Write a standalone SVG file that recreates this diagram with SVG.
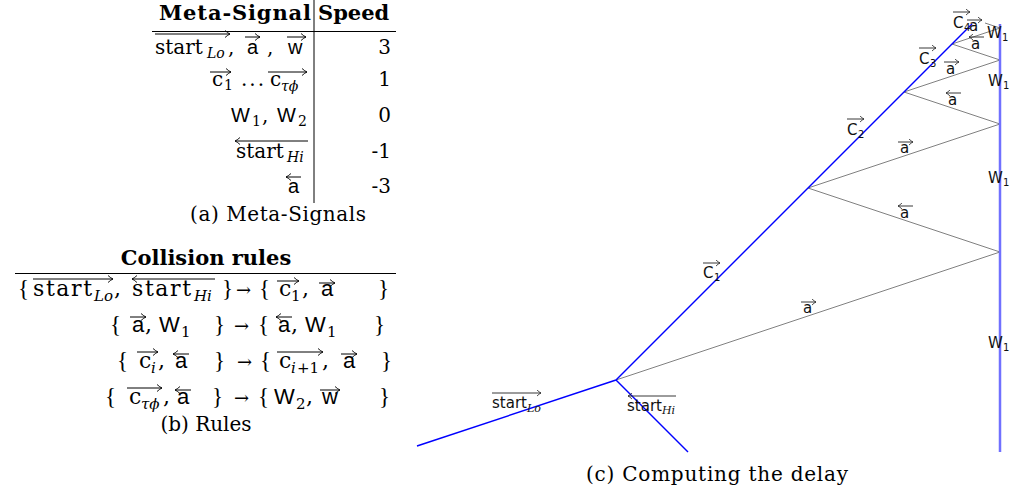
<svg xmlns="http://www.w3.org/2000/svg" width="1010" height="493" viewBox="0 0 1010 493">
<defs>
<marker id="h" viewBox="-6 -4 7 8" refX="0" refY="0" markerWidth="7" markerHeight="8" markerUnits="userSpaceOnUse" orient="auto">
<path d="M-5,-3.5 Q-2,-0.8 0,0 Q-2,0.8 -5,3.5" fill="none" stroke="#000" stroke-width="0.9"/>
</marker>
<marker id="hs" viewBox="-5 -3.5 6 7" refX="0" refY="0" markerWidth="6" markerHeight="7" markerUnits="userSpaceOnUse" orient="auto">
<path d="M-4,-3 Q-1.6,-0.7 0,0 Q-1.6,0.7 -4,3" fill="none" stroke="#222" stroke-width="0.8"/>
</marker>
</defs>
<style>
.sr{font-family:"DejaVu Serif","Liberation Serif",serif;font-size:20px;fill:#000}
.srb{font-family:"DejaVu Serif","Liberation Serif",serif;font-size:21px;font-weight:bold;fill:#000}
.sb{font-family:"DejaVu Serif","Liberation Serif",serif;font-size:22px;fill:#000}
.br{font-family:"Liberation Serif","DejaVu Serif",serif;font-size:23px;fill:#000}
.ar{font-family:"DejaVu Serif","Liberation Serif",serif;font-size:18px;fill:#000}
.it{font-family:"DejaVu Serif","Liberation Serif",serif;font-style:italic;font-size:14px;fill:#000}
.up{font-family:"DejaVu Serif","Liberation Serif",serif;font-size:14px;fill:#000}
.itb{font-family:"DejaVu Serif","Liberation Serif",serif;font-style:italic;font-size:15px;fill:#000}
.upb{font-family:"DejaVu Serif","Liberation Serif",serif;font-size:15px;fill:#000}
.ss{font-family:"Liberation Sans","DejaVu Sans",sans-serif;font-size:20px;fill:#000}
.ssb{font-family:"Liberation Sans","DejaVu Sans",sans-serif;font-size:22px;fill:#000}
.lb{font-family:"DejaVu Sans","Liberation Sans",sans-serif;font-size:15px;fill:#111}
.lbs{font-family:"DejaVu Sans","Liberation Sans",sans-serif;font-size:10px;fill:#111}
.lbi{font-family:"DejaVu Serif","Liberation Serif",serif;font-style:italic;font-size:11px;fill:#111}
.ov{stroke:#000;stroke-width:1;marker-end:url(#h);fill:none}
.ovs{stroke:#222;stroke-width:0.9;marker-end:url(#hs);fill:none}
.rule{stroke:#000;stroke-width:1}
.end{text-anchor:end}
.mid{text-anchor:middle}
</style>

<g id="table-a">
<line class="rule" x1="314" y1="0" x2="314" y2="203"/>
<line class="rule" x1="152" y1="31.5" x2="396" y2="31.5"/>
<text class="srb end" x="311" y="20" textLength="152">Meta-Signal</text>
<text class="srb" x="318" y="20">Speed</text>
<g id="row-a1">
<text class="sr" x="155" y="54">start</text><text class="it" x="207" y="58">Lo</text><text class="sr" x="228" y="54">,</text>
<text class="ss" x="247" y="54">a</text><text class="sr" x="267" y="54">,</text><text class="ss" x="288" y="54">w</text>
<line class="ov" x1="155" y1="34" x2="230" y2="34"/>
<line class="ov" x1="245" y1="37" x2="260" y2="37"/>
<line class="ov" x1="287" y1="37" x2="306" y2="37"/>
<text class="sr end" x="391" y="54">3</text>
</g>
<g id="row-a2">
<text class="sr" x="212" y="86">c</text><text class="up" x="224" y="90">1</text>
<text class="sr" x="241" y="86" letter-spacing="2">...</text>
<text class="sr" x="270" y="86">c</text><text class="it" x="281" y="91">τϕ</text>
<line class="ov" x1="210" y1="72" x2="231" y2="72"/>
<line class="ov" x1="268" y1="72" x2="307" y2="72"/>
<text class="sr end" x="391" y="86">1</text>
</g>
<g id="row-a3">
<text class="ss" x="231" y="122" font-size="21">W</text><text class="up" x="252" y="126">1</text><text class="sr" x="262" y="122">,</text>
<text class="ss" x="277" y="122" font-size="21">W</text><text class="up" x="298" y="126">2</text>
<text class="sr end" x="391" y="122">0</text>
</g>
<g id="row-a4">
<text class="sr" x="236" y="158">start</text><text class="it" x="287" y="162">Hi</text>
<line class="ov" x1="308" y1="141" x2="235" y2="141"/>
<text class="sr end" x="391" y="158">-1</text>
</g>
<g id="row-a5">
<text class="ss" x="288" y="193">a</text>
<line class="ov" x1="301" y1="177" x2="286" y2="177"/>
<text class="sr end" x="391" y="193">-3</text>
</g>
<text class="sr mid" x="278" y="221" font-size="21" textLength="176">(a) Meta-Signals</text>
</g>

<g id="rules-b">
<text class="srb mid" x="206" y="265">Collision rules</text>
<line class="rule" x1="15" y1="273.5" x2="396" y2="273.5"/>
<g id="rule-1">
<text class="br" x="18" y="296">{</text>
<text class="sb" x="33" y="296" textLength="59">start</text><text class="itb" x="94" y="301">Lo</text><text class="sb" x="114" y="296">,</text>
<text class="sb" x="132" y="296" textLength="59">start</text><text class="itb" x="194" y="301">Hi</text>
<text class="br" x="222" y="296">}</text>
<text class="ar" x="236" y="296">→</text>
<text class="br" x="259" y="296">{</text>
<text class="sb" x="279" y="296">c</text><text class="upb" x="291" y="301">1</text><text class="sb" x="302" y="296">,</text>
<text class="ssb" x="321" y="296">a</text>
<text class="br" x="378" y="296">}</text>
<line class="ov" x1="33" y1="279" x2="113" y2="279"/>
<line class="ov" x1="215" y1="279" x2="132" y2="279"/>
<line class="ov" x1="277" y1="281" x2="299" y2="281"/>
<line class="ov" x1="319" y1="283" x2="335" y2="283"/>
</g>
<g id="rule-2">
<text class="br" x="110" y="332">{</text>
<text class="ssb" x="132" y="332">a</text><text class="sb" x="145" y="332">,</text>
<text class="ssb" x="159" y="332">W</text><text class="upb" x="181" y="337">1</text>
<text class="br" x="214" y="332">}</text>
<text class="ar" x="234" y="332">→</text>
<text class="br" x="258" y="332">{</text>
<text class="ssb" x="278" y="332">a</text><text class="sb" x="291" y="332">,</text>
<text class="ssb" x="305" y="332">W</text><text class="upb" x="327" y="337">1</text>
<text class="br" x="374" y="332">}</text>
<line class="ov" x1="130" y1="317" x2="146" y2="317"/>
<line class="ov" x1="292" y1="317" x2="276" y2="317"/>
</g>
<g id="rule-3">
<text class="br" x="117" y="368">{</text>
<text class="sb" x="139" y="368">c</text><text class="itb" x="151" y="373">i</text><text class="sb" x="158" y="368">,</text>
<text class="ssb" x="175" y="368">a</text>
<text class="br" x="214" y="368">}</text>
<text class="ar" x="237" y="368">→</text>
<text class="br" x="260" y="368">{</text>
<text class="sb" x="279" y="368">c</text><text class="itb" x="291" y="373">i</text><text class="upb" x="297" y="373">+1</text><text class="sb" x="322" y="368">,</text>
<text class="ssb" x="343" y="368">a</text>
<text class="br" x="381" y="368">}</text>
<line class="ov" x1="137" y1="352" x2="158" y2="352"/>
<line class="ov" x1="189" y1="354" x2="173" y2="354"/>
<line class="ov" x1="277" y1="352" x2="323" y2="352"/>
<line class="ov" x1="341" y1="354" x2="357" y2="354"/>
</g>
<g id="rule-4">
<text class="br" x="105" y="404">{</text>
<text class="sb" x="129" y="404">c</text><text class="itb" x="141" y="409">τϕ</text><text class="sb" x="163" y="404">,</text>
<text class="ssb" x="177" y="404">a</text>
<text class="br" x="212" y="404">}</text>
<text class="ar" x="234" y="404">→</text>
<text class="br" x="258" y="404">{</text>
<text class="ssb" x="274" y="404">W</text><text class="upb" x="296" y="409">2</text><text class="sb" x="306" y="404">,</text>
<text class="ssb" x="322" y="404">w</text>
<text class="br" x="379" y="404">}</text>
<line class="ov" x1="127" y1="388" x2="162" y2="388"/>
<line class="ov" x1="191" y1="390" x2="175" y2="390"/>
<line class="ov" x1="320" y1="390" x2="340" y2="390"/>
</g>
<text class="sr mid" x="206" y="431" font-size="21">(b) Rules</text>
</g>

<g id="diagram-c">
<g id="connectors">
<polyline points="616,380 1000,252 808,188 1000,124 904,92 1000,60 952,44 1000,28 985,23" fill="none" stroke="#808080" stroke-width="1"/>
<line x1="417" y1="446" x2="616" y2="380" stroke="#0000ff" stroke-width="1.4"/>
<line x1="616" y1="380" x2="688" y2="452" stroke="#0000ff" stroke-width="1.4"/>
<line x1="616" y1="380" x2="972" y2="24" stroke="#0000ff" stroke-width="1.4"/>
<line x1="1000" y1="24" x2="1000" y2="452" stroke="#7070ff" stroke-width="2.5"/>
</g>
<g id="lbl-startLo">
<text class="lb" x="492" y="408">start</text><text class="lbi" x="527" y="412">Lo</text>
<line class="ovs" x1="492" y1="393" x2="541" y2="393"/>
</g>
<g id="lbl-startHi">
<text class="lb" x="627" y="411">start</text><text class="lbi" x="662" y="414">Hi</text>
<line class="ovs" x1="676" y1="396" x2="628" y2="396"/>
</g>
<g id="lbl-c1"><text class="lb" x="703" y="278">C</text><text class="lbs" x="714" y="281">1</text><line class="ovs" x1="703" y1="263" x2="720" y2="263"/></g>
<g id="lbl-c2"><text class="lb" x="847" y="135">C</text><text class="lbs" x="858" y="138">2</text><line class="ovs" x1="847" y1="119" x2="864" y2="119"/></g>
<g id="lbl-c3"><text class="lb" x="919" y="64">C</text><text class="lbs" x="930" y="67">3</text><line class="ovs" x1="919" y1="48" x2="936" y2="48"/></g>
<g id="lbl-c4"><text class="lb" x="953" y="28">C</text><text class="lbs" x="964" y="31">4</text><line class="ovs" x1="953" y1="12" x2="970" y2="12"/></g>
<g id="lbl-a1"><text class="lb" x="803" y="313">a</text><line class="ovs" x1="801" y1="302" x2="816" y2="302"/></g>
<g id="lbl-a2"><text class="lb" x="900" y="218">a</text><line class="ovs" x1="913" y1="206" x2="898" y2="206"/></g>
<g id="lbl-a3"><text class="lb" x="900" y="153">a</text><line class="ovs" x1="898" y1="142" x2="913" y2="142"/></g>
<g id="lbl-a4"><text class="lb" x="948" y="105">a</text><line class="ovs" x1="961" y1="93" x2="946" y2="93"/></g>
<g id="lbl-a5"><text class="lb" x="946" y="74">a</text><line class="ovs" x1="944" y1="62" x2="959" y2="62"/></g>
<g id="lbl-a6"><text class="lb" x="971" y="49">a</text><line class="ovs" x1="984" y1="37" x2="969" y2="37"/></g>
<g id="lbl-a7"><text class="lb" x="969" y="31">a</text><line class="ovs" x1="967" y1="20" x2="982" y2="20"/></g>
<g id="lbl-w1"><text class="lb" x="987" y="38">W</text><text class="lbs" x="1002" y="41">1</text></g>
<g id="lbl-w2"><text class="lb" x="988" y="86">W</text><text class="lbs" x="1003" y="89">1</text></g>
<g id="lbl-w3"><text class="lb" x="988" y="183">W</text><text class="lbs" x="1003" y="186">1</text></g>
<g id="lbl-w4"><text class="lb" x="988" y="348">W</text><text class="lbs" x="1003" y="351">1</text></g>
<text class="sr mid" x="717" y="481" font-size="21" textLength="262">(c) Computing the delay</text>
</g>
</svg>
